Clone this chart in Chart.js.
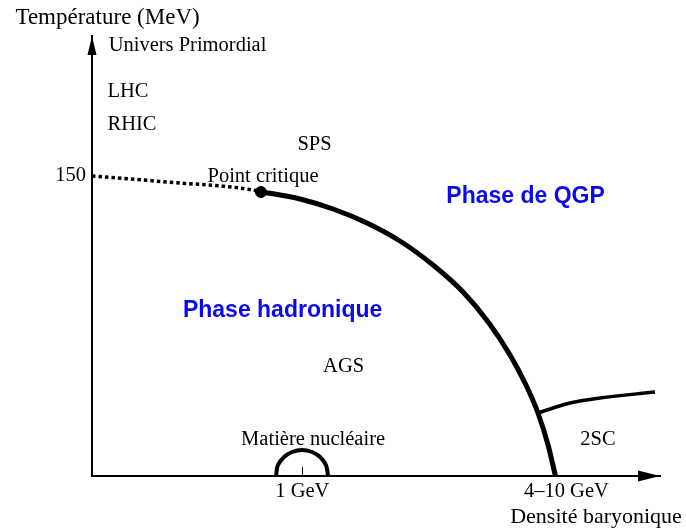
<!DOCTYPE html>
<html lang="fr">
<head>
<meta charset="UTF-8">
<title>Diagramme de phase de la QCD</title>
<style>
    html, body { margin: 0; padding: 0; background: #fff; }
    canvas { display: block; }
</style>
</head>
<body>
<canvas id="phaseChart" width="686" height="530"></canvas>
<script src="https://cdn.jsdelivr.net/npm/chart.js"></script>
<script>
// x: baryon density in arbitrary units (the 1 GeV mark sits at 1), y: temperature in MeV
const xTickValues = [1, 2.255];
const xTickLabels = ['1 GeV', '4–10 GeV'];
const yTickValues = [150];
const yTickLabels = ['150'];

// crossover (dotted) from the T axis to the critical point
const crossoverX = [0, 0.356, 0.765, 0.803];
const crossoverY = [150, 147, 143, 142];

// first order transition line
const boundaryX = [0.803, 0.846, 0.989, 1.146, 1.307, 1.464, 1.621, 1.764, 1.887, 1.987, 2.063, 2.120, 2.168, 2.203];
const boundaryY = [142, 141.35, 138.5, 133.5, 126.5, 117.5, 105.5, 92, 76.5, 60.5, 45.5, 31.5, 15.5, 0];

// 2SC border
const scX = [2.120, 2.272, 2.414, 2.676];
const scY = [31.5, 36.5, 39, 42];

// nuclear matter half circle
const nuclearX = [0.875, 0.884, 0.913, 0.951, 0.998, 1.046, 1.084, 1.112, 1.122];
const nuclearY = [0, 5.5, 9.5, 12, 13, 12, 9.5, 5.5, 0];

const criticalX = [0.803];
const criticalY = [142];

function pts(xs, ys) {
    return xs.map((x, i) => ({ x: x, y: ys[i] }));
}

const serif = '"Liberation Serif", "Times New Roman", serif';
const sans = '"Liberation Sans", Arial, sans-serif';

// text placed on the diagram (data coordinates, centred)
const notes = [
    { text: 'Température (MeV)', x: 0.074, y: 226, font: '23px ' + serif, color: '#000' },
    { text: 'Univers Primordial', x: 0.454, y: 212.5, font: '20.5px ' + serif, color: '#000' },
    { text: 'LHC', x: 0.171, y: 189.5, font: '20.5px ' + serif, color: '#000' },
    { text: 'RHIC', x: 0.190, y: 173, font: '20.5px ' + serif, color: '#000' },
    { text: 'SPS', x: 1.058, y: 163, font: '20.5px ' + serif, color: '#000' },
    { text: 'Point critique', x: 0.813, y: 147, font: '20.5px ' + serif, color: '#000' },
    { text: 'Phase de QGP', x: 2.061, y: 136.5, font: 'bold 23px ' + sans, color: '#0a0af0' },
    { text: 'Phase hadronique', x: 0.906, y: 79.5, font: 'bold 23px ' + sans, color: '#0a0af0' },
    { text: 'AGS', x: 1.196, y: 52, font: '20.5px ' + serif, color: '#000' },
    { text: 'Matière nucléaire', x: 1.051, y: 15.5, font: '20.5px ' + serif, color: '#000' },
    { text: '2SC', x: 2.405, y: 15.5, font: '20.5px ' + serif, color: '#000' },
    { text: 'Densité baryonique', x: 2.396, y: -23.5, font: '22px ' + serif, color: '#000' }
];

const decor = {
    id: 'decor',
    afterDraw(chart) {
        const ctx = chart.ctx;
        const xs = chart.scales.x;
        const ys = chart.scales.y;
        const ox = xs.getPixelForValue(0);
        const oy = ys.getPixelForValue(0);
        const top = chart.chartArea.top;
        const right = chart.chartArea.right;
        ctx.save();
        ctx.fillStyle = '#000';
        // arrow heads
        ctx.beginPath();
        ctx.moveTo(ox, top);
        ctx.lineTo(ox - 4.5, top + 19);
        ctx.lineTo(ox + 4.5, top + 19);
        ctx.closePath();
        ctx.fill();
        ctx.beginPath();
        ctx.moveTo(right, oy);
        ctx.lineTo(right - 22, oy - 5.5);
        ctx.lineTo(right - 22, oy + 5.5);
        ctx.closePath();
        ctx.fill();
        // small tick at 1 GeV
        const tx = Math.round(xs.getPixelForValue(1)) + 0.5;
        ctx.strokeStyle = '#000';
        ctx.lineWidth = 1;
        ctx.beginPath();
        ctx.moveTo(tx, oy);
        ctx.lineTo(tx, oy - 9);
        ctx.stroke();
        // texts
        ctx.textAlign = 'center';
        ctx.textBaseline = 'alphabetic';
        notes.forEach(n => {
            ctx.font = n.font;
            ctx.fillStyle = n.color;
            ctx.fillText(n.text, xs.getPixelForValue(n.x), ys.getPixelForValue(n.y));
        });
        ctx.restore();
    }
};

new Chart(document.getElementById('phaseChart'), {
    type: 'scatter',
    data: {
        datasets: [{
            data: pts(crossoverX, crossoverY),
            showLine: true,
            borderColor: '#000',
            borderWidth: 3.5,
            borderDash: [3.5, 3],
            borderCapStyle: 'butt',
            cubicInterpolationMode: 'monotone',
            pointRadius: 0
        }, {
            data: pts(boundaryX, boundaryY),
            showLine: true,
            borderColor: '#000',
            borderWidth: 5,
            cubicInterpolationMode: 'monotone',
            pointRadius: 0
        }, {
            data: pts(scX, scY),
            showLine: true,
            borderColor: '#000',
            borderWidth: 3.5,
            cubicInterpolationMode: 'monotone',
            pointRadius: 0
        }, {
            data: pts(nuclearX, nuclearY),
            showLine: true,
            borderColor: '#000',
            borderWidth: 4,
            tension: 0.4,
            pointRadius: 0
        }, {
            data: pts(criticalX, criticalY),
            showLine: false,
            pointRadius: 5.5,
            pointBackgroundColor: '#000',
            pointBorderColor: '#000'
        }]
    },
    options: {
        responsive: false,
        animation: false,
        events: [],
        layout: { padding: { top: 36, right: 26, left: 0, bottom: 0 } },
        plugins: { legend: { display: false }, tooltip: { enabled: false } },
        scales: {
            x: {
                type: 'linear',
                min: 0,
                max: 2.7,
                afterFit(scale) { scale.height = 54; },
                afterBuildTicks(scale) { scale.ticks = xTickValues.map(v => ({ value: v })); },
                grid: { display: false, drawTicks: false },
                border: { display: true, color: '#000', width: 2 },
                ticks: {
                    autoSkip: false,
                    maxRotation: 0,
                    padding: 3,
                    color: '#000',
                    font: { family: serif, size: 20.5 },
                    callback: (v) => xTickLabels[xTickValues.indexOf(v)]
                }
            },
            y: {
                type: 'linear',
                min: 0,
                max: 220,
                afterFit(scale) { scale.width = 92; },
                afterBuildTicks(scale) { scale.ticks = yTickValues.map(v => ({ value: v })); },
                grid: { display: false, drawTicks: false },
                border: { display: true, color: '#000', width: 2 },
                ticks: {
                    autoSkip: false,
                    padding: 6,
                    color: '#000',
                    font: { family: serif, size: 20.5 },
                    callback: (v) => yTickLabels[yTickValues.indexOf(v)]
                }
            }
        }
    },
    plugins: [decor]
});
</script>
</body>
</html>
